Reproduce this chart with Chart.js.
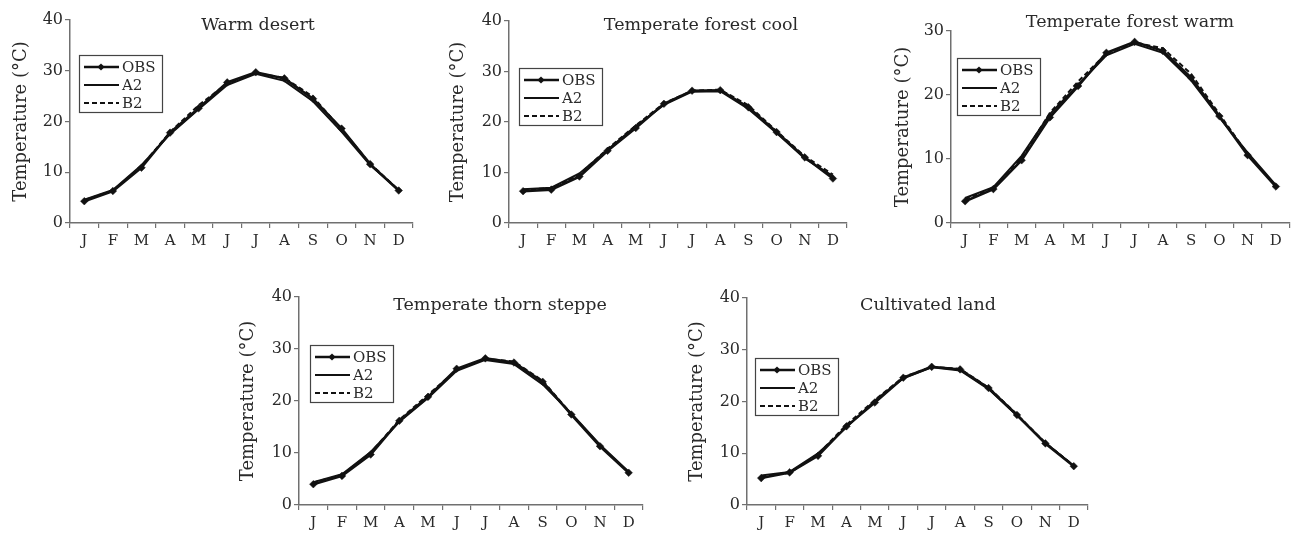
<!DOCTYPE html>
<html>
<head>
<meta charset="utf-8">
<script src="https://cdn.jsdelivr.net/npm/chart.js@4.4.1/dist/chart.umd.min.js"></script>
<style>
  html, body { margin: 0; padding: 0; background: #fff; }
  body { width: 1299px; height: 533px; position: relative; overflow: hidden; }
  .panel { position: absolute; }
</style>
</head>
<body>
<script>
// ---------------- DATA ----------------
const MONTHS = ['J', 'F', 'M', 'A', 'M', 'J', 'J', 'A', 'S', 'O', 'N', 'D'];
const SERIES_NAMES = ['OBS', 'A2', 'B2'];
const PANEL_TITLES = ['Warm desert', 'Temperate forest cool', 'Temperate forest warm', 'Temperate thorn steppe', 'Cultivated land'];
const Y_TICKS_40 = [0, 10, 20, 30, 40];
const Y_TICKS_30 = [0, 10, 20, 30];

const obsWarmDesert = [4.3, 6.3, 10.9, 17.8, 22.6, 27.7, 29.7, 28.5, 24.5, 18.6, 11.6, 6.4];
const a2WarmDesert  = [4.6, 6.5, 11.4, 17.5, 22.4, 27.2, 29.4, 28.0, 24.0, 18.0, 11.4, 6.5];
const b2WarmDesert  = [4.5, 6.4, 11.2, 17.9, 23.2, 27.5, 29.5, 28.6, 24.9, 18.4, 11.7, 6.5];

const obsForestCool = [6.3, 6.6, 9.2, 14.3, 18.8, 23.6, 26.2, 26.3, 22.9, 18.0, 13.0, 8.8];
const a2ForestCool  = [6.7, 7.0, 9.8, 14.5, 19.2, 23.4, 26.0, 26.1, 22.6, 17.8, 12.8, 9.3];
const b2ForestCool  = [6.6, 6.9, 9.6, 14.7, 19.3, 23.7, 26.2, 26.4, 23.3, 18.2, 13.2, 9.6];

const obsForestWarm = [3.4, 5.3, 9.8, 16.5, 21.4, 26.6, 28.3, 26.9, 22.7, 16.7, 10.6, 5.7];
const a2ForestWarm  = [3.9, 5.6, 10.5, 17.0, 21.6, 26.2, 28.0, 26.6, 22.3, 16.5, 11.0, 5.9];
const b2ForestWarm  = [3.7, 5.5, 10.2, 17.2, 22.1, 26.5, 28.2, 27.3, 23.3, 17.0, 10.8, 5.8];

const obsThornSteppe = [4.0, 5.6, 9.7, 16.2, 20.8, 26.2, 28.2, 27.4, 23.7, 17.4, 11.3, 6.2];
const a2ThornSteppe  = [4.4, 5.9, 10.2, 16.0, 20.6, 25.8, 27.9, 27.1, 23.2, 17.6, 11.6, 6.4];
const b2ThornSteppe  = [4.3, 5.8, 10.0, 16.4, 21.2, 26.0, 28.1, 27.6, 23.9, 17.5, 11.4, 6.3];

const obsCultivated = [5.2, 6.3, 9.5, 15.2, 19.8, 24.6, 26.7, 26.2, 22.6, 17.4, 11.9, 7.5];
const a2Cultivated  = [5.7, 6.4, 10.0, 15.0, 20.2, 24.5, 26.6, 26.0, 22.4, 17.3, 12.0, 7.6];
const b2Cultivated  = [5.5, 6.2, 9.8, 15.5, 20.3, 24.7, 26.7, 26.3, 22.7, 17.5, 12.0, 7.6];

// ---------------- LAYOUT / STYLE ----------------
const FONT = "'DejaVu Serif', 'Liberation Serif', serif";
const TEXT = '#2a2a2a';
const AXIS = '#707070';

const panels = [
  { title: PANEL_TITLES[0], obs: obsWarmDesert, a2: a2WarmDesert, b2: b2WarmDesert, yTicks: Y_TICKS_40,
    box: [0, 0, 430, 260], ca: [70, 20, 413, 223], yTitleX: 21, titleAt: [258, 25], legendAt: [79, 55] },
  { title: PANEL_TITLES[1], obs: obsForestCool, a2: a2ForestCool, b2: b2ForestCool, yTicks: Y_TICKS_40,
    box: [435, 0, 860, 260], ca: [509, 21, 847, 223], yTitleX: 458, titleAt: [701, 25], legendAt: [519, 68] },
  { title: PANEL_TITLES[2], obs: obsForestWarm, a2: a2ForestWarm, b2: b2ForestWarm, yTicks: Y_TICKS_30,
    box: [880, 0, 1299, 260], ca: [951, 31, 1290, 223], yTitleX: 903, titleAt: [1130, 22], legendAt: [957, 58] },
  { title: PANEL_TITLES[3], obs: obsThornSteppe, a2: a2ThornSteppe, b2: b2ThornSteppe, yTicks: Y_TICKS_40,
    box: [230, 280, 655, 533], ca: [299, 297, 643, 505], yTitleX: 248, titleAt: [500, 305], legendAt: [310, 345] },
  { title: PANEL_TITLES[4], obs: obsCultivated, a2: a2Cultivated, b2: b2Cultivated, yTicks: Y_TICKS_40,
    box: [675, 280, 1100, 533], ca: [747, 298, 1088, 505], yTitleX: 697, titleAt: [928, 305], legendAt: [755, 358] }
];

// Plugin: panel title drawn inside plot area
const panelTitlePlugin = {
  id: 'panelTitle',
  afterDraw(chart, args, opts) {
    const ctx = chart.ctx;
    ctx.save();
    ctx.font = "17.5px " + FONT;
    ctx.fillStyle = TEXT;
    ctx.textAlign = 'center';
    ctx.textBaseline = 'middle';
    ctx.fillText(opts.text, opts.x, opts.y);
    ctx.restore();
  }
};

// Plugin: boxed legend inside plot area, using dataset styles
const boxLegendPlugin = {
  id: 'boxLegend',
  afterDraw(chart, args, opts) {
    const ctx = chart.ctx;
    const x = opts.x, y = opts.y, w = 83, h = 57;
    ctx.save();
    ctx.fillStyle = '#fff';
    ctx.fillRect(x, y, w, h);
    ctx.strokeStyle = '#444';
    ctx.lineWidth = 1.2;
    ctx.strokeRect(x + 0.5, y + 0.5, w, h);
    const rows = chart.data.datasets.map(d => d).sort((a, b) => SERIES_NAMES.indexOf(a.label) - SERIES_NAMES.indexOf(b.label));
    rows.forEach((ds, i) => {
      const ry = y + 12 + i * 18;
      ctx.beginPath();
      ctx.setLineDash(ds.borderDash || []);
      ctx.lineWidth = ds.label === 'OBS' ? 2.6 : 2;
      ctx.strokeStyle = '#111';
      ctx.moveTo(x + 5, ry);
      ctx.lineTo(x + 40, ry);
      ctx.stroke();
      ctx.setLineDash([]);
      if (ds.pointRadius > 0) {
        const r = 3.6;
        ctx.beginPath();
        ctx.moveTo(x + 22, ry - r);
        ctx.lineTo(x + 22 + r, ry);
        ctx.lineTo(x + 22, ry + r);
        ctx.lineTo(x + 22 - r, ry);
        ctx.closePath();
        ctx.fillStyle = '#111';
        ctx.fill();
      }
      ctx.font = "15px " + FONT;
      ctx.fillStyle = TEXT;
      ctx.textAlign = 'left';
      ctx.textBaseline = 'middle';
      ctx.fillText(ds.label, x + 43, ry + 1);
    });
    ctx.restore();
  }
};

panels.forEach(p => {
  const [bl, bt, br, bb] = p.box;
  const [cl, ct, cr, cb] = p.ca;
  const div = document.createElement('div');
  div.className = 'panel';
  div.style.left = bl + 'px';
  div.style.top = bt + 'px';
  div.style.width = (br - bl) + 'px';
  div.style.height = (bb - bt) + 'px';
  const canvas = document.createElement('canvas');
  div.appendChild(canvas);
  document.body.appendChild(div);

  const yAxisW = cl - bl;
  const xAxisH = bb - cb;
  const titleFontSize = 18;
  const titleLH = titleFontSize * 1.2;
  const titlePad = p.yTitleX - bl - titleLH / 2;

  new Chart(canvas, {
    type: 'line',
    data: {
      labels: MONTHS,
      datasets: [
        { label: 'B2', data: p.b2, borderColor: '#111', borderWidth: 2, borderDash: [5, 3],
          pointRadius: 0, tension: 0, fill: false, order: 3 },
        { label: 'A2', data: p.a2, borderColor: '#111', borderWidth: 2,
          pointRadius: 0, tension: 0, fill: false, order: 2 },
        { label: 'OBS', data: p.obs, borderColor: '#111', borderWidth: 2.6,
          pointStyle: 'rectRot', pointRadius: 3.8, pointBackgroundColor: '#111', pointBorderColor: '#111',
          pointBorderWidth: 0.5, tension: 0, fill: false, order: 1 }
      ]
    },
    options: {
      responsive: true,
      maintainAspectRatio: false,
      animation: false,
      events: [],
      layout: { padding: { left: 0, top: ct - bt, right: br - cr, bottom: 0 } },
      plugins: {
        legend: { display: false },
        tooltip: { enabled: false },
        title: { display: false },
        panelTitle: { text: p.title, x: p.titleAt[0] - bl, y: p.titleAt[1] - bt },
        boxLegend: { x: p.legendAt[0] - bl, y: p.legendAt[1] - bt }
      },
      scales: {
        x: {
          type: 'category',
          offset: true,
          grid: { offset: true, drawOnChartArea: false, drawTicks: true, tickLength: 5, color: AXIS, lineWidth: 1.2 },
          border: { display: true, color: AXIS, width: 1.5 },
          ticks: { font: { family: FONT, size: 15 }, color: TEXT, padding: 4, maxRotation: 0, autoSkip: false },
          afterFit: s => { s.height = xAxisH; }
        },
        y: {
          min: 0,
          max: p.yTicks[p.yTicks.length - 1],
          afterBuildTicks: s => { s.ticks = p.yTicks.map(v => ({ value: v })); },
          grid: { drawOnChartArea: false, drawTicks: true, tickLength: 5, color: AXIS, lineWidth: 1.2 },
          border: { display: true, color: AXIS, width: 1.5 },
          ticks: { font: { family: FONT, size: 16 }, color: TEXT, padding: 2 },
          title: { display: true, text: 'Temperature (°C)', font: { family: FONT, size: titleFontSize },
                   color: TEXT, padding: { top: titlePad, bottom: 0 } },
          afterFit: s => { s.width = yAxisW; }
        }
      }
    },
    plugins: [panelTitlePlugin, boxLegendPlugin]
  });
});
</script>
</body>
</html>
